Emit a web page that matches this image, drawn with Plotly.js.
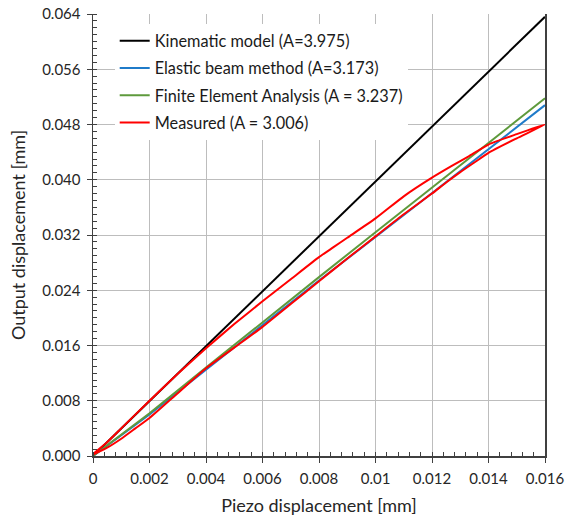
<!DOCTYPE html>
<html>
<head>
<meta charset="utf-8">
<script src="https://cdn.plot.ly/plotly-3.0.1.min.js"></script>
<style>html,body{margin:0;padding:0;background:#fff}#chart{width:572px;height:518px}</style>
</head>
<body>
<div id="chart"></div>
<script>
// Kinematic model
const kinX = [0, 0.016];
const kinY = [0, 0.0636];
// Elastic beam method
const ebmX = [0, 0.002, 0.004, 0.006, 0.008, 0.010, 0.012, 0.014, 0.016];
const ebmY = [0, 0.0060, 0.0125, 0.0190, 0.0254, 0.0317, 0.0381, 0.0444, 0.0508];
// Finite Element Analysis
const feaX = [0, 0.002, 0.004, 0.006, 0.008, 0.010, 0.012, 0.014, 0.016];
const feaY = [0, 0.0062, 0.0128, 0.0194, 0.0259, 0.0324, 0.0389, 0.0453, 0.0518];
// Measured hysteresis loop (ascending branch then descending branch)
const measX = [0, 0.0005, 0.001, 0.0015, 0.002, 0.003, 0.004, 0.005, 0.006, 0.007, 0.008, 0.009, 0.010, 0.011, 0.012, 0.0125, 0.013, 0.0135, 0.014, 0.015, 0.016,
               0.015, 0.014, 0.0133, 0.0127, 0.012, 0.011, 0.010, 0.009, 0.0085, 0.008, 0.007, 0.006, 0.005, 0.004, 0.003, 0.002, 0.001, 0.0005, 0];
const measY = [0.0002, 0.0012, 0.0025, 0.0040, 0.0055, 0.0091, 0.0127, 0.0157, 0.0187, 0.0220, 0.0253, 0.0286, 0.0318, 0.0350, 0.0380, 0.0396, 0.0411, 0.0425, 0.0439, 0.0460, 0.0480,
               0.0466, 0.0451, 0.0434, 0.0420, 0.0403, 0.0376, 0.0344, 0.0316, 0.0302, 0.0288, 0.0256, 0.0224, 0.0191, 0.0156, 0.0119, 0.0080, 0.0040, 0.0020, 0.0003];

const names = ["Kinematic model (A=3.975)", "Elastic beam method (A=3.173)", "Finite Element Analysis (A = 3.237)", "Measured (A = 3.006)"];
const colors = ["#000000", "#1F7BC9", "#5E9A3C", "#FF0000"];

const xTickVals = [0, 0.002, 0.004, 0.006, 0.008, 0.010, 0.012, 0.014, 0.016];
const xTickText = ["0", "0.002", "0.004", "0.006", "0.008", "0.01", "0.012", "0.014", "0.016"];
const yTickVals = [0, 0.008, 0.016, 0.024, 0.032, 0.040, 0.048, 0.056, 0.064];
const yTickText = ["0.000", "0.008", "0.016", "0.024", "0.032", "0.040", "0.048", "0.056", "0.064"];

const series = [[kinX, kinY], [ebmX, ebmY], [feaX, feaY], [measX, measY]];
const traces = series.map((s, i) => ({
  x: s[0], y: s[1], type: 'scatter', mode: 'lines', name: names[i],
  legendgroup: 'g' + i,
  line: {color: colors[i], width: 2, shape: i === 3 ? 'spline' : 'linear', smoothing: 0.5}
}));

const font = "Lato, 'Open Sans', sans-serif";
const layout = {
  width: 572, height: 518,
  margin: {l: 93, r: 27, t: 14, b: 62},
  paper_bgcolor: '#fff', plot_bgcolor: '#fff',
  font: {family: font, color: '#262626', size: 13},
  showlegend: true,
  legend: {x: 0.048, y: 0.978, xanchor: 'left', yanchor: 'top', bgcolor: 'rgba(255,255,255,1)',
           font: {family: font, size: 16.3, color: '#1a1a1a'}, tracegroupgap: 3, traceorder: 'grouped', itemwidth: 30},
  xaxis: {
    range: [0, 0.016], tickvals: xTickVals, ticktext: xTickText,
    showgrid: true, gridcolor: '#BDBDBD', gridwidth: 1,
    showline: true, linecolor: '#404040', linewidth: 1.5, mirror: false,
    ticks: 'outside', ticklen: 5, tickcolor: '#404040', ticklabelstandoff: 3,
    minor: {dtick: 0.0004, ticks: 'inside', ticklen: 4, tickcolor: '#404040', showgrid: false},
    zeroline: false, tickfont: {size: 15, family: font, color: '#262626'},
    title: {text: 'Piezo displacement [mm]', font: {size: 18, family: font, color: '#262626'}, standoff: 14}
  },
  yaxis: {
    range: [0, 0.064], tickvals: yTickVals, ticktext: yTickText,
    showgrid: true, gridcolor: '#BDBDBD', gridwidth: 1,
    showline: true, linecolor: '#404040', linewidth: 1.5, mirror: true,
    ticks: 'outside', ticklen: 5, tickcolor: '#404040', ticklabelstandoff: 3,
    minor: {dtick: 0.001, ticks: 'inside', ticklen: 4, tickcolor: '#404040', showgrid: false},
    zeroline: false, tickfont: {size: 15, family: font, color: '#262626'},
    title: {text: 'Output displacement [mm]', font: {size: 18, family: font, color: '#262626'}, standoff: 12}
  }
};

Plotly.newPlot('chart', traces, layout, {displayModeBar: false, staticPlot: true});
</script>
</body>
</html>
